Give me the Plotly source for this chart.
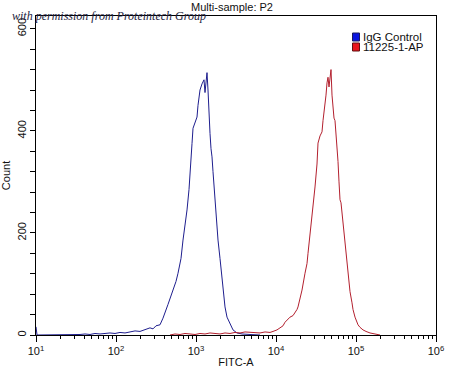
import plotly.graph_objects as go

# IgG Control (blue) histogram: FITC-A intensity vs count
blue_fitc = [10, 10.3, 35.5, 41.0, 47.3, 54.6, 63.1, 72.9, 84.1, 97.2, 112.2, 129.6, 149.6,
             172.8, 199.5, 230.4, 266.1, 290.1, 316.2, 354.8, 386.7, 446.7, 515.8, 562.3,
             595.7, 649.4, 688.1, 728.8, 772.3, 817.6, 841.4, 866.0, 891.3, 917.3, 971.6,
             1029.3, 1059.3, 1122.0, 1188.5, 1223.2, 1258.9, 1295.7, 1333.5, 1372.4, 1412.5,
             1453.7, 1496.2, 1539.9, 1584.9, 1631.2, 1727.9, 1830.4, 1883.6, 1995.3, 2113.5,
             2238.7, 2304.1, 2440.6, 2660.7, 2901.0, 3253.1, 3758.4, 4731.5, 6309.6]
blue_count = [16, 0, 1, 2, 1, 3, 2, 3, 4, 3, 5, 4, 6,
              8, 7, 10, 14, 12, 18, 20, 33, 60, 88, 105,
              121, 150, 186, 215, 245, 285, 310, 345, 375, 405, 418,
              427, 450, 480, 492, 496, 500, 475, 498, 514, 480,
              420, 395, 365, 349, 320, 265, 215, 186, 150, 115,
              75, 55, 35, 23, 10, 4, 2, 1, 0]

# 11225-1-AP (red) histogram
red_fitc = [473.2, 546.4, 631.0, 728.8, 841.4, 971.6, 1122.0, 1295.7, 1496.2, 1727.9, 1995.3,
            2304.1, 2660.7, 3072.3, 3548.1, 4097.0, 4731.5, 5463.4, 6309.6, 7287.8, 8414.0,
            9172.6, 10292.5, 11220.2, 12232.1, 12957.2, 14125.4, 14962.4, 16312.4, 17278.3,
            18302.4, 18836.5, 19952.6, 21134.9, 23040.8, 24405.9, 25118.9, 26607.3, 28183.8,
            29007.4, 30725.5, 32546.1, 33496.5, 35481.3, 37584.0, 38681.1, 40973.4, 42169.7,
            43400.2, 44668.4, 45972.4, 47315.1, 48696.8, 50118.7, 51580.4, 53088.4, 54639.4,
            57876.6, 59566.2, 61305.8, 63095.7, 64938.2, 66834.4, 68785.6, 72861.9, 77179.6,
            79432.8, 84139.5, 89125.1, 91727.4, 97162.8, 102920, 105925, 112202, 122321,
            133352, 149624, 172783, 199526]
red_count = [0, 2, 1, 3, 2, 1, 3, 2, 4, 3, 2,
             4, 3, 5, 4, 6, 5, 4, 4, 6, 5,
             7, 10, 14, 18, 25, 30, 35, 38, 43,
             50, 55, 70, 88, 121, 140, 160, 195, 231,
             255, 290, 335, 376, 390, 398, 420, 447, 470,
             494, 505, 486, 500, 520, 470, 435, 425, 420,
             376, 340, 300, 265, 259, 240, 210, 173, 135,
             114, 85, 63, 50, 35, 25, 20, 15, 10,
             7, 4, 2, 0]

series_names = ["IgG Control", "11225-1-AP"]
x_tick_values = [10, 100, 1000, 10000, 100000, 1000000]
x_tick_labels = ["10<sup>1</sup>", "10<sup>2</sup>", "10<sup>3</sup>",
                 "10<sup>4</sup>", "10<sup>5</sup>", "10<sup>6</sup>"]
y_tick_values = [0, 200, 400, 600]

W, H = 450, 368
L, R, T, B = 36, 14, 16, 33
pw, ph = W - L - R, H - T - B

def px2x(px):
    return (px - L) / pw

def py2y(py):
    return (H - B - py) / ph

fig = go.Figure()
fig.add_trace(go.Scatter(x=blue_fitc, y=blue_count, mode="lines", name=series_names[0],
                         line=dict(color="#1e1e8e", width=1), showlegend=False))
fig.add_trace(go.Scatter(x=red_fitc, y=red_count, mode="lines", name=series_names[1],
                         line=dict(color="#b3202e", width=1), showlegend=False))

font = "Liberation Sans, Arial, sans-serif"

fig.update_layout(
    width=W, height=H,
    margin=dict(l=L, r=R, t=T, b=B),
    paper_bgcolor="white", plot_bgcolor="white",
    font=dict(family=font, size=11, color="#111"),
    title=dict(text="Multi-sample: P2", x=232 / W, xanchor="center",
               y=1 - 7.5 / H, yanchor="middle", font=dict(size=11, color="#111")),
    xaxis=dict(type="log", range=[1, 6], tickmode="array", tickvals=x_tick_values,
               ticktext=x_tick_labels, ticks="outside", ticklen=6, tickcolor="black",
               showline=True, linecolor="black", linewidth=1, mirror=True, showgrid=False,
               zeroline=False, layer="below traces",
               minor=dict(ticks="outside", ticklen=3, tickcolor="black", dtick="D1", showgrid=False),
               title=dict(text="FITC-A", standoff=2, font=dict(size=11)),
               tickfont=dict(size=11), automargin=False),
    yaxis=dict(range=[0, 625], tickmode="array", tickvals=y_tick_values, tickangle=-90,
               ticks="outside", ticklen=5, tickcolor="black",
               showline=True, linecolor="black", linewidth=1, mirror=True, showgrid=False,
               zeroline=False, layer="below traces",
               minor=dict(ticks="outside", ticklen=5, tickcolor="black", dtick=40, showgrid=False),
               title=dict(text="Count", standoff=3, font=dict(size=11)),
               tickfont=dict(size=11), automargin=False),
)

# legend (drawn as swatches + labels)
legend_colors = [("#0a14e0", "#1a1a60"), ("#e8141c", "#601010")]
legend_rows = [37, 47]
for (fill, edge), row, name in zip(legend_colors, legend_rows, series_names):
    fig.add_shape(type="rect", xref="paper", yref="paper",
                  x0=px2x(352.5), x1=px2x(359.5), y0=py2y(row + 4), y1=py2y(row - 4),
                  fillcolor=fill, line=dict(color=edge, width=1))
    fig.add_annotation(text=name, xref="paper", yref="paper", x=px2x(362), y=py2y(row),
                       xanchor="left", yanchor="middle", showarrow=False, borderpad=0,
                       font=dict(size=11.5, color="#111"))

# watermark
fig.add_annotation(text="with permission from Proteintech Group", xref="paper", yref="paper",
                   x=px2x(10), y=py2y(16.5), xanchor="left", yanchor="middle", showarrow=False,
                   font=dict(family="Liberation Serif, serif", size=12, color="#232340",
                             style="italic"))

fig.write_html("out.html", config={"displayModeBar": False},
               post_script="document.body.style.margin='0';")
